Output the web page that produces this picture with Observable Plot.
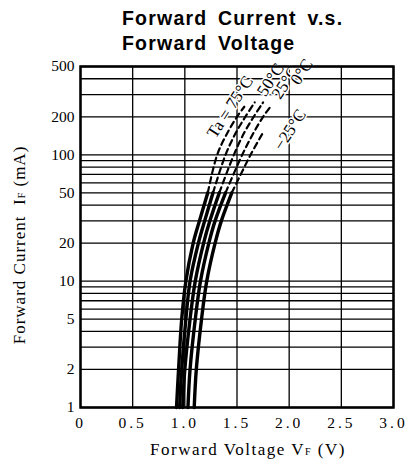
<!DOCTYPE html>
<html><head><meta charset="utf-8">
<script src="https://cdn.jsdelivr.net/npm/d3@7"></script>
<script src="https://cdn.jsdelivr.net/npm/@observablehq/plot@0.6"></script>
<style>body{margin:0;background:#fff}</style>
</head><body><div id="chart"></div>
<script>
// ---- data ----
const temps = ["75", "50", "25", "0", "-25"];
const solidI = [1, 2, 5, 10, 20, 30, 50];
const solidV75 = [0.92, 0.94, 0.97, 1.01, 1.08, 1.14, 1.22];
const solidV50 = [0.95, 0.97, 1.01, 1.05, 1.13, 1.19, 1.27];
const solidV25 = [0.98, 1.00, 1.05, 1.10, 1.18, 1.24, 1.33];
const solidV0  = [1.03, 1.05, 1.10, 1.15, 1.23, 1.29, 1.39];
const solidVm25 = [1.09, 1.11, 1.16, 1.21, 1.29, 1.35, 1.45];
const dashI75 = [50, 100, 150, 200, 240];
const dashV75 = [1.22, 1.31, 1.41, 1.50, 1.57];
const dashI50 = [50, 100, 150, 200, 260];
const dashV50 = [1.27, 1.39, 1.49, 1.58, 1.67];
const dashI25 = [50, 100, 150, 200, 260];
const dashV25 = [1.33, 1.47, 1.57, 1.66, 1.75];
const dashI0 = [50, 100, 150, 200, 240];
const dashV0 = [1.39, 1.55, 1.66, 1.75, 1.82];
const dashIm25 = [50, 100, 150];
const dashVm25 = [1.45, 1.63, 1.75];
const labelText = ["Ta = 75°C", "50°C", "25°C", "0°C", "−25°C"];
const labelV = [1.25, 1.73, 1.87, 2.05, 1.89];
const labelI = [140, 300, 285, 370, 112];
const xTicks = [0, 0.5, 1.0, 1.5, 2.0, 2.5, 3.0];
const yTicks = [1, 2, 5, 10, 20, 50, 100, 200, 500];
const yGrid = [1,2,3,4,5,6,7,8,9,10,20,30,40,50,60,70,80,90,100,200,300,400,500];

// ---- build rows ----
const solidSets = [solidV75, solidV50, solidV25, solidV0, solidVm25];
const dashSets = [[dashI75, dashV75],[dashI50, dashV50],[dashI25, dashV25],[dashI0, dashV0],[dashIm25, dashVm25]];
const solid = [], dashed = [];
temps.forEach((t, k) => {
  solidI.forEach((i, j) => solid.push({t, i, v: solidSets[k][j]}));
  dashSets[k][0].forEach((i, j) => dashed.push({t, i, v: dashSets[k][1][j]}));
});
const labels = labelText.map((s, k) => ({s, v: labelV[k], i: labelI[k]}));

const svg = Plot.plot({
  width: 411, height: 469,
  marginLeft: 80, marginRight: 18, marginTop: 66, marginBottom: 62,
  style: {fontFamily: "'Liberation Serif', serif", fontSize: "15.5px", color: "black", background: "white", overflow: "visible"},
  x: {domain: [0, 3]},
  y: {type: "log", domain: [1, 500], axis: null},
  marks: [
    Plot.ruleY(yGrid, {stroke: "black", strokeWidth: 1.3}),
    Plot.ruleX(xTicks, {stroke: "black", strokeWidth: 1.3}),
    Plot.axisX(xTicks, {tickSize: 0, tickPadding: 9, tickFormat: d => d === 0 ? "0" : d.toFixed(1), label: null, fontSize: 15.5}),
    Plot.text(yTicks, {x: 0, y: d => d, text: d => String(d), textAnchor: "end", dx: -6, fontSize: 15.5, fill: "black"}),
    Plot.line(dashed, {x: "v", y: "i", z: "t", stroke: "black", strokeWidth: 2.2, strokeDasharray: "6,4", curve: "catmull-rom"}),
    Plot.line(solid, {x: "v", y: "i", z: "t", stroke: "black", strokeWidth: 3.4, curve: "catmull-rom"}),
    Plot.text(labels, {x: "v", y: "i", text: "s", rotate: -57, textAnchor: "start", fontSize: 17, fill: "black", stroke: "white", strokeWidth: 3, paintOrder: "stroke"}),
    Plot.frame({stroke: "black", strokeWidth: 2.5})
  ]
});

const s = d3.select(svg);
s.selectAll('[aria-label="x-axis tick label"] text').attr("letter-spacing", "3px");

// Title
const title = s.append("text")
  .attr("text-anchor", "start")
  .attr("font-family", "'Liberation Sans', Arial, sans-serif")
  .attr("font-weight", "bold").attr("font-size", 19.5)
  .attr("letter-spacing", "1.2px").attr("word-spacing", "4px").attr("fill", "black");
title.append("tspan").attr("x", 122).attr("y", 25).text("Forward Current v.s.");
title.append("tspan").attr("x", 122).attr("y", 50).text("Forward Voltage");

// x-axis title
const xt = s.append("text")
  .attr("x", 248).attr("y", 455).attr("text-anchor", "middle")
  .attr("font-family", "'Liberation Serif', serif").attr("font-size", 17)
  .attr("letter-spacing", "1.5px").attr("fill", "black");
xt.append("tspan").text("Forward Voltage V");
xt.append("tspan").attr("font-size", 10).text("F");
xt.append("tspan").text(" (V)");

// y-axis title
const yt = s.append("text")
  .attr("transform", "translate(25,245) rotate(-90)").attr("text-anchor", "middle")
  .attr("font-family", "'Liberation Serif', serif").attr("font-size", 17)
  .attr("letter-spacing", "1px").attr("fill", "black");
yt.append("tspan").text("Forward Current  I");
yt.append("tspan").attr("font-size", 10).text("F");
yt.append("tspan").text(" (mA)");

document.getElementById("chart").appendChild(svg);
</script></body></html>
